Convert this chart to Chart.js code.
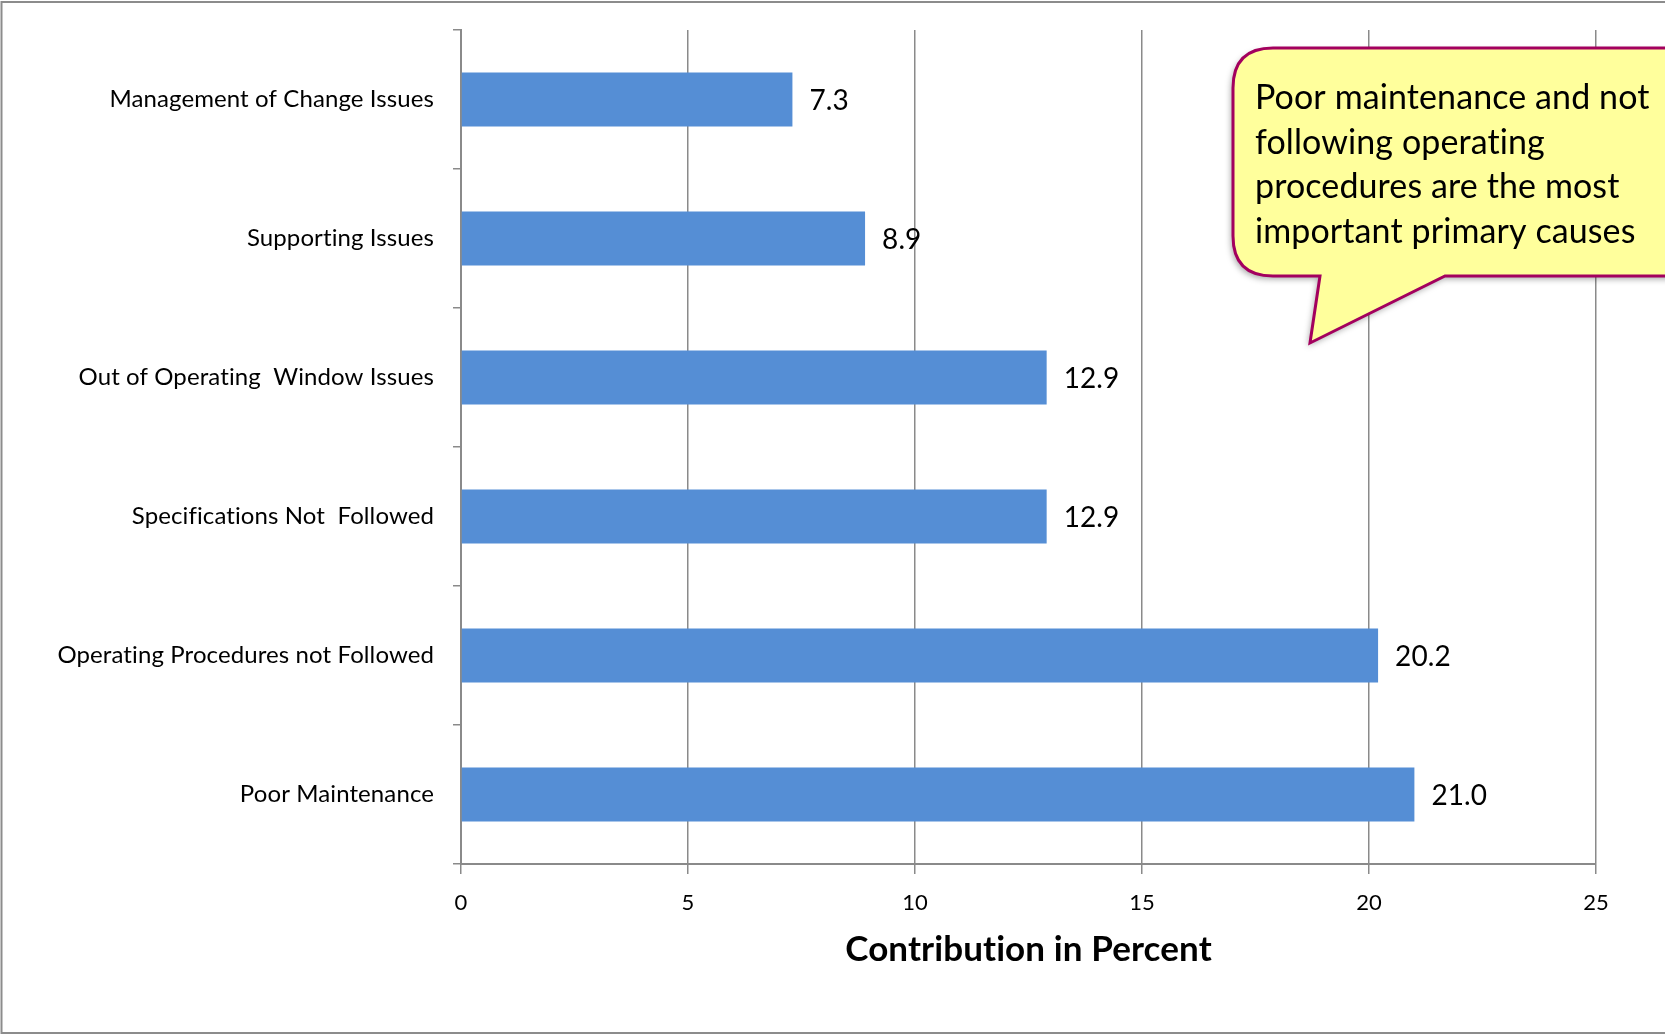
<!DOCTYPE html>
<html>
<head>
<meta charset="utf-8">
<script src="https://cdn.jsdelivr.net/npm/chart.js@4"></script>
<style>
  html, body { margin: 0; padding: 0; background: #ffffff; }
  canvas { display: block; }
</style>
</head>
<body>
<canvas id="chart" width="1665" height="1034"></canvas>
<script>
// Primary causes and their share of incidents (percent)
const categories = [
  'Management of Change Issues',
  'Supporting Issues',
  'Out of Operating  Window Issues',
  'Specifications Not  Followed',
  'Operating Procedures not Followed',
  'Poor Maintenance'
];
const contribution = [7.3, 8.9, 12.9, 12.9, 20.2, 21.0];
const axisMin = 0;
const axisMax = 25;
const axisStep = 5;
const axisTitle = 'Contribution in Percent';
const calloutLines = [
  'Poor maintenance and not',
  'following operating',
  'procedures are the most',
  'important primary causes'
];

const FONT = 'Lato, "Open Sans", sans-serif';
const GRID = '#8a8a8a';

// Small tracking keeps the "ti" ligature from being formed
const textSetup = {
  id: 'textSetup',
  beforeDraw(chart) {
    if ('letterSpacing' in chart.ctx) chart.ctx.letterSpacing = '0.1px';
  }
};

// Value printed just past the end of each bar
const valueLabels = {
  id: 'valueLabels',
  afterDatasetsDraw(chart) {
    const ctx = chart.ctx;
    const meta = chart.getDatasetMeta(0);
    ctx.save();
    ctx.font = '28px ' + FONT;
    ctx.fillStyle = '#000000';
    ctx.textAlign = 'left';
    ctx.textBaseline = 'middle';
    meta.data.forEach((bar, i) => {
      ctx.fillText(contribution[i].toFixed(1), bar.x + 17, bar.y + 1);
    });
    ctx.restore();
  }
};

// Speech-bubble note and the thin frame around the figure
const decorations = {
  id: 'decorations',
  afterDraw(chart) {
    const ctx = chart.ctx;
    const W = chart.width, H = chart.height;

    // frame
    ctx.save();
    ctx.strokeStyle = '#8c8c8c';
    ctx.lineWidth = 2;
    ctx.beginPath();
    ctx.moveTo(W, 2);
    ctx.lineTo(1.5, 2);
    ctx.lineTo(1.5, H - 1);
    ctx.lineTo(W, H - 1);
    ctx.stroke();
    ctx.restore();

    // bubble
    const L = 1233, T = 48, B = 276, R = 1720, r = 40;
    const p1 = 1320, p2 = 1445, tipX = 1310, tipY = 343;
    const path = () => {
      ctx.beginPath();
      ctx.moveTo(L + r, T);
      ctx.lineTo(R, T);
      ctx.lineTo(R, B);
      ctx.lineTo(p2, B);
      ctx.lineTo(tipX, tipY);
      ctx.lineTo(p1, B);
      ctx.lineTo(L + r, B);
      ctx.quadraticCurveTo(L, B, L, B - r);
      ctx.lineTo(L, T + r);
      ctx.quadraticCurveTo(L, T, L + r, T);
      ctx.closePath();
    };
    ctx.save();
    ctx.shadowColor = 'rgba(0,0,0,0.35)';
    ctx.shadowBlur = 6;
    ctx.shadowOffsetX = -2;
    ctx.shadowOffsetY = 3;
    path();
    ctx.fillStyle = '#ffff9c';
    ctx.fill();
    ctx.restore();

    ctx.save();
    path();
    ctx.lineWidth = 3;
    ctx.strokeStyle = '#a3005e';
    ctx.stroke();
    ctx.font = '34px ' + FONT;
    ctx.fillStyle = '#000000';
    ctx.textAlign = 'left';
    ctx.textBaseline = 'alphabetic';
    calloutLines.forEach((line, i) => {
      ctx.fillText(line, 1255, 109 + i * 44.7);
    });
    ctx.restore();
  }
};

new Chart(document.getElementById('chart'), {
  type: 'bar',
  data: {
    labels: categories,
    datasets: [{
      data: contribution,
      backgroundColor: '#558ed5',
      borderWidth: 0,
      categoryPercentage: 1,
      barPercentage: 0.39
    }]
  },
  options: {
    indexAxis: 'y',
    responsive: false,
    animation: false,
    events: [],
    layout: { padding: { top: 30, right: 69, bottom: 0, left: 0 } },
    plugins: {
      legend: { display: false },
      tooltip: { enabled: false },
      title: { display: false }
    },
    scales: {
      x: {
        type: 'linear',
        min: axisMin,
        max: axisMax,
        ticks: {
          stepSize: axisStep,
          color: '#000000',
          font: { family: FONT, size: 22 },
          padding: 16
        },
        grid: {
          color: GRID,
          lineWidth: 1.5,
          tickLength: 10,
          drawTicks: true
        },
        border: { display: true, color: GRID, width: 2 },
        title: {
          display: true,
          text: axisTitle,
          color: '#000000',
          font: { family: FONT, size: 35, weight: 'bold' },
          padding: { top: 0, bottom: 63 }
        },
        afterFit(scale) { scale.height = 170; }
      },
      y: {
        type: 'category',
        offset: true,
        ticks: {
          color: '#000000',
          font: { family: FONT, size: 24 },
          padding: 19
        },
        grid: {
          offset: true,
          color: GRID,
          lineWidth: 1.5,
          drawOnChartArea: false,
          tickLength: 8
        },
        border: { display: true, color: GRID, width: 2 },
        afterFit(scale) {
          scale.width = 461;
          // labels sit mid-category, so no extra room is needed above/below
          scale.paddingTop = 0;
          scale.paddingBottom = 0;
        }
      }
    }
  },
  plugins: [textSetup, valueLabels, decorations]
});
</script>
</body>
</html>
